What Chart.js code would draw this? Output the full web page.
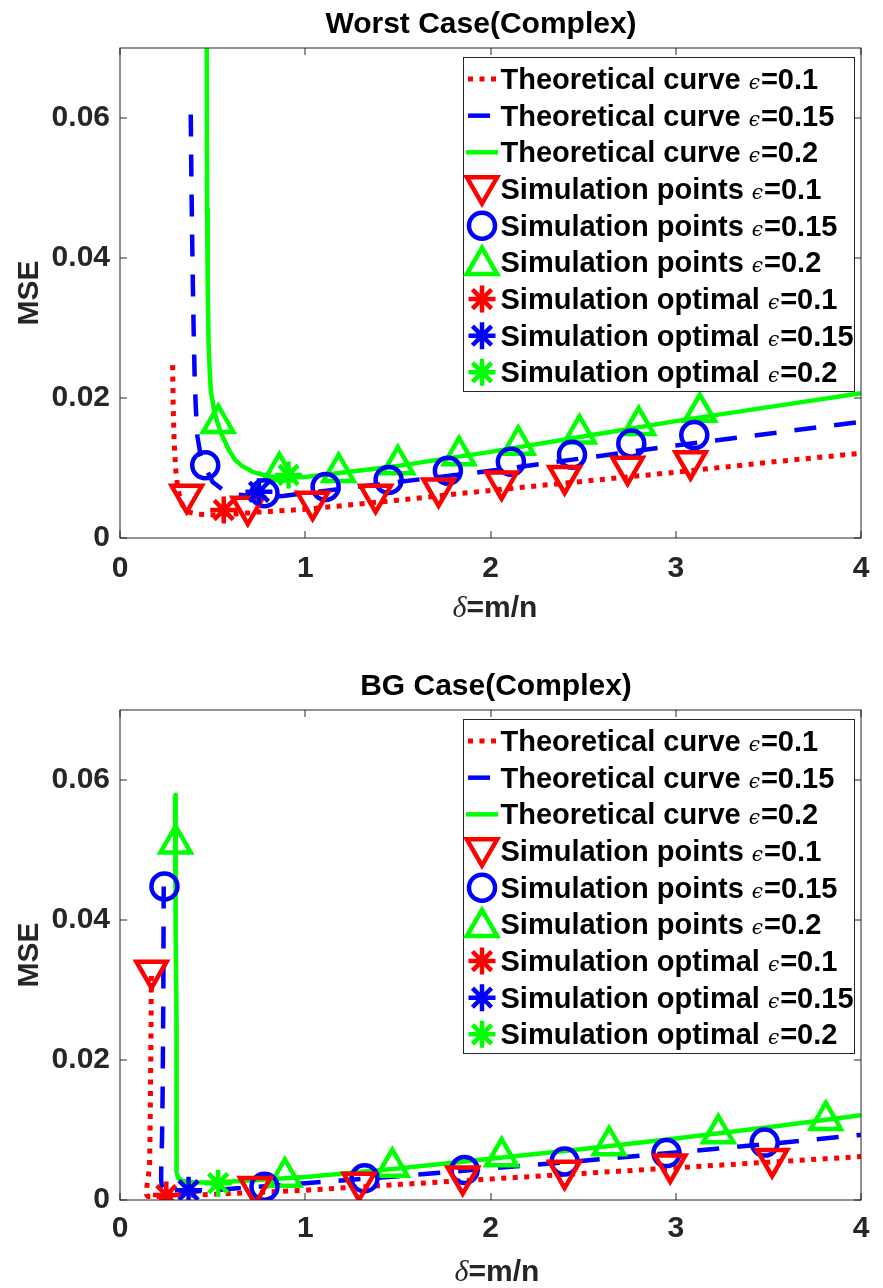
<!DOCTYPE html>
<html>
<head>
<meta charset="utf-8">
<script src="https://cdn.jsdelivr.net/npm/chart.js@4.4.1/dist/chart.umd.min.js"></script>
<style>
html,body{margin:0;padding:0;background:#fff;}
canvas{display:block;}
</style>
</head>
<body>
<canvas id="wc" width="883" height="644"></canvas>
<canvas id="bg" width="883" height="644"></canvas>
<script>
// ---------- shared tick / legend data ----------
const xTickValues = [0, 1, 2, 3, 4];
const yTickValues = [0, 0.02, 0.04, 0.06];
const epsilonLabels = ['0.1', '0.15', '0.2'];
const legendPrefixes = ['Theoretical curve', 'Theoretical curve', 'Theoretical curve',
  'Simulation points', 'Simulation points', 'Simulation points',
  'Simulation optimal', 'Simulation optimal', 'Simulation optimal'];

// ---------- Worst Case (Complex) ----------
const wcCurveX_01 = [0.284, 0.287, 0.292, 0.300, 0.310, 0.325, 0.345, 0.37, 0.42, 0.50, 0.60, 0.75, 1.0, 1.5, 2.0, 2.5, 3.0, 3.5, 4.0];
const wcCurveY_01 = [0.0247, 0.0190, 0.0140, 0.0100, 0.0075, 0.0055, 0.0043, 0.0037, 0.0034, 0.0033, 0.0034, 0.0037, 0.0041, 0.0054, 0.0068, 0.0081, 0.0094, 0.0108, 0.0121];
const wcCurveX_015 = [0.382, 0.386, 0.390, 0.394, 0.398, 0.403, 0.409, 0.418, 0.435, 0.462, 0.50, 0.56, 0.64, 0.75, 0.88, 1.0, 1.5, 2.0, 2.5, 3.0, 3.5, 4.0];
const wcCurveY_015 = [0.0605, 0.050, 0.042, 0.035, 0.029, 0.023, 0.0187, 0.0145, 0.0118, 0.0100, 0.0080, 0.0068, 0.0062, 0.0059, 0.0060, 0.0064, 0.0080, 0.0096, 0.0114, 0.0132, 0.0149, 0.0166];
const wcCurveX_02 = [0.467, 0.468, 0.470, 0.474, 0.478, 0.484, 0.490, 0.505, 0.52, 0.545, 0.587, 0.62, 0.658, 0.72, 0.80, 0.90, 1.0, 1.5, 2.0, 2.5, 3.0, 3.5, 4.0];
const wcCurveY_02 = [0.080, 0.070, 0.047, 0.035, 0.028, 0.024, 0.0211, 0.0187, 0.0170, 0.0150, 0.0126, 0.0112, 0.0103, 0.0094, 0.0088, 0.0086, 0.0087, 0.0103, 0.0123, 0.0145, 0.0167, 0.0187, 0.0207];

const wcPointsX_01 = [0.36, 0.69, 1.04, 1.38, 1.72, 2.06, 2.40, 2.74, 3.08];
const wcPointsY_01 = [0.0062, 0.0045, 0.0052, 0.0062, 0.0071, 0.0081, 0.0089, 0.0102, 0.0110];
const wcPointsX_015 = [0.46, 0.78, 1.11, 1.45, 1.77, 2.11, 2.44, 2.76, 3.10];
const wcPointsY_015 = [0.0104, 0.0064, 0.0073, 0.0083, 0.0096, 0.0109, 0.0119, 0.0135, 0.0147];
const wcPointsX_02 = [0.53, 0.86, 1.18, 1.50, 1.83, 2.15, 2.48, 2.80, 3.13];
const wcPointsY_02 = [0.0164, 0.0095, 0.0094, 0.0105, 0.0118, 0.0133, 0.0149, 0.0161, 0.0180];

const wcOptimalX = [0.56, 0.75, 0.91];
const wcOptimalY = [0.0040, 0.0066, 0.0090];

// ---------- BG Case (Complex) ----------
const bgCurveX_01 = [0.169, 0.168, 0.166, 0.164, 0.162, 0.160, 0.155, 0.148, 0.143, 0.143, 0.150, 0.20, 0.30, 0.50, 0.75, 1.0, 1.5, 2.0, 2.5, 3.0, 3.5, 4.0];
const bgCurveY_01 = [0.0320, 0.0260, 0.0200, 0.0140, 0.0090, 0.0055, 0.0038, 0.0026, 0.0015, 0.0008, 0.0005, 0.0005, 0.0006, 0.0008, 0.0011, 0.0014, 0.0022, 0.0030, 0.0038, 0.0046, 0.0054, 0.0062];
const bgCurveX_015 = [0.236, 0.235, 0.234, 0.232, 0.230, 0.227, 0.223, 0.222, 0.226, 0.24, 0.30, 0.40, 0.60, 0.80, 1.0, 1.5, 2.0, 2.5, 3.0, 3.5, 4.0];
const bgCurveY_015 = [0.0448, 0.0380, 0.0300, 0.0220, 0.0150, 0.0090, 0.0050, 0.0030, 0.0018, 0.0013, 0.0011, 0.0012, 0.0016, 0.0020, 0.0024, 0.0034, 0.0045, 0.0056, 0.0068, 0.0080, 0.0093];
const bgCurveX_02 = [0.297, 0.299, 0.302, 0.305, 0.306, 0.305, 0.304, 0.306, 0.315, 0.34, 0.40, 0.50, 0.70, 1.0, 1.5, 2.0, 2.5, 3.0, 3.5, 4.0];
const bgCurveY_02 = [0.0579, 0.0480, 0.0380, 0.0260, 0.0160, 0.0090, 0.0055, 0.0040, 0.0031, 0.0027, 0.0025, 0.0025, 0.0028, 0.0033, 0.0045, 0.0059, 0.0073, 0.0088, 0.0104, 0.0121];

const bgPointsX_01 = [0.17, 0.73, 1.29, 1.85, 2.40, 2.97, 3.52];
const bgPointsY_01 = [0.0328, 0.0019, 0.0025, 0.0034, 0.0042, 0.0051, 0.0059];
const bgPointsX_015 = [0.24, 0.78, 1.32, 1.86, 2.40, 2.95, 3.48];
const bgPointsY_015 = [0.0448, 0.0019, 0.0031, 0.0043, 0.0055, 0.0067, 0.0082];
const bgPointsX_02 = [0.30, 0.89, 1.47, 2.06, 2.64, 3.23, 3.81];
const bgPointsY_02 = [0.0509, 0.0033, 0.0047, 0.0062, 0.0078, 0.0095, 0.0114];

const bgOptimalX = [0.25, 0.37, 0.53];
const bgOptimalY = [0.0007, 0.0014, 0.0024];

// ---------- styles ----------
const COLORS = ['#ff0000', '#0000ff', '#00ff00'];
const LINE_STYLES = [
  {dash: [5, 6.5], width: 5},
  {dash: [22, 18], width: 4.5},
  {dash: [], width: 4.5}
];
const MARKERS = [
  {style: 'triangle', rotation: 180, radius: 17.5},
  {style: 'circle', rotation: 0, radius: 13},
  {style: 'triangle', rotation: 0, radius: 17.5}
];
const STAR_RADIUS = 13.5;
const MARKER_LW = 4.5;
const AXIS_COLOR = '#262626';
const SANS = '"Liberation Sans", Arial, Helvetica, sans-serif';
const SERIF = '"DejaVu Serif", "Liberation Serif", serif';
const CANVAS_H = 644;

function xy(xs, ys) { return xs.map((x, i) => ({x: x, y: ys[i]})); }

function buildDatasets(curves, points, optX, optY) {
  const ds = [];
  curves.forEach((c, i) => ds.push({
    data: xy(c[0], c[1]), showLine: true, fill: false, tension: 0,
    borderColor: COLORS[i], borderWidth: LINE_STYLES[i].width, borderDash: LINE_STYLES[i].dash,
    borderCapStyle: 'butt', borderJoinStyle: 'round', pointRadius: 0, order: 3
  }));
  points.forEach((p, i) => ds.push({
    data: xy(p[0], p[1]), showLine: false,
    pointStyle: MARKERS[i].style, pointRotation: MARKERS[i].rotation, pointRadius: MARKERS[i].radius,
    pointBorderWidth: MARKER_LW, pointBorderColor: COLORS[i], borderColor: COLORS[i],
    pointBackgroundColor: 'rgba(0,0,0,0)', backgroundColor: 'rgba(0,0,0,0)', order: 2
  }));
  optX.forEach((x, i) => ds.push({
    data: [{x: x, y: optY[i]}], showLine: false,
    pointStyle: 'star', pointRadius: STAR_RADIUS, pointBorderWidth: MARKER_LW,
    pointBorderColor: COLORS[i], borderColor: COLORS[i], pointBackgroundColor: COLORS[i], order: 1
  }));
  return ds;
}

function drawMarker(ctx, kind, x, y, color) {
  ctx.save();
  ctx.strokeStyle = color; ctx.lineWidth = MARKER_LW; ctx.setLineDash([]);
  ctx.beginPath();
  if (kind.style === 'circle') {
    ctx.arc(x, y, kind.radius, 0, Math.PI * 2);
  } else if (kind.style === 'triangle') {
    let rad = kind.rotation * Math.PI / 180; const r = kind.radius;
    ctx.moveTo(x + Math.sin(rad) * r, y - Math.cos(rad) * r);
    rad += 2 * Math.PI / 3; ctx.lineTo(x + Math.sin(rad) * r, y - Math.cos(rad) * r);
    rad += 2 * Math.PI / 3; ctx.lineTo(x + Math.sin(rad) * r, y - Math.cos(rad) * r);
    ctx.closePath();
  } else {
    const r = STAR_RADIUS;
    for (let k = 0; k < 4; k++) {
      const a = k * Math.PI / 4;
      ctx.moveTo(x - Math.cos(a) * r, y - Math.sin(a) * r);
      ctx.lineTo(x + Math.cos(a) * r, y + Math.sin(a) * r);
    }
  }
  ctx.stroke();
  ctx.restore();
}

const decorPlugin = {
  id: 'matlabDecor',
  afterDraw(chart, args, o) {
    const ctx = chart.ctx, a = chart.chartArea, xs = chart.scales.x, ys = chart.scales.y;
    ctx.save();
    // axes box
    ctx.strokeStyle = AXIS_COLOR; ctx.lineWidth = 1; ctx.setLineDash([]);
    ctx.strokeRect(a.left, a.top, a.right - a.left, a.bottom - a.top);
    // inward ticks on all four sides
    ctx.beginPath();
    xTickValues.forEach(v => {
      const px = Math.round(xs.getPixelForValue(v));
      ctx.moveTo(px, a.bottom); ctx.lineTo(px, a.bottom - 7);
      ctx.moveTo(px, a.top); ctx.lineTo(px, a.top + 7);
    });
    yTickValues.forEach(v => {
      const py = Math.round(ys.getPixelForValue(v));
      ctx.moveTo(a.left, py); ctx.lineTo(a.left + 7, py);
      ctx.moveTo(a.right, py); ctx.lineTo(a.right - 7, py);
    });
    ctx.stroke();

    // title
    ctx.fillStyle = '#000';
    ctx.font = 'bold ' + o.titleSize + 'px ' + SANS;
    ctx.textAlign = 'center'; ctx.textBaseline = 'alphabetic';
    ctx.fillText(o.title, o.titleX, a.top - 15);

    // x axis title: italic delta + "=m/n"
    const xt1 = '\u03B4', xt2 = '=m/n';
    const f1 = 'italic 30px "Liberation Serif", serif', f2 = 'bold 30px ' + SANS;
    ctx.font = f1; const w1 = ctx.measureText(xt1).width;
    ctx.font = f2; const w2 = ctx.measureText(xt2).width;
    let sx = o.xTitleX - (w1 + w2) / 2;
    const by = a.bottom + o.xTitleOffset;
    ctx.fillStyle = AXIS_COLOR; ctx.textAlign = 'left';
    ctx.font = f1; ctx.fillText(xt1, sx, by);
    ctx.font = f2; ctx.fillText(xt2, sx + w1, by);

    // legend box
    const L = a.right - 398, T = a.top + 9, W = 391, H = 334;
    ctx.fillStyle = '#fff'; ctx.fillRect(L, T, W, H);
    ctx.strokeStyle = AXIS_COLOR; ctx.lineWidth = 1;
    ctx.strokeRect(L + 0.5, T + 0.5, W, H);
    for (let i = 0; i < 9; i++) {
      const cy = T + 22 + i * 36.67;
      const ci = i % 3;
      if (i < 3) {
        ctx.save();
        ctx.strokeStyle = COLORS[ci]; ctx.lineWidth = LINE_STYLES[ci].width;
        ctx.setLineDash(LINE_STYLES[ci].dash); ctx.lineCap = 'butt';
        ctx.beginPath();
        const x0 = ci === 2 ? L + 3 : L + 5, x1 = ci === 2 ? L + 35 : L + 33;
        ctx.moveTo(x0, cy); ctx.lineTo(x1, cy); ctx.stroke();
        ctx.restore();
      } else if (i < 6) {
        const m = MARKERS[ci];
        drawMarker(ctx, m, L + 19, cy + (m.style === 'triangle' ? (m.rotation ? -3 : 3) : 0), COLORS[ci]);
      } else {
        drawMarker(ctx, {style: 'star'}, L + 19, cy, COLORS[ci]);
      }
      // text
      let tx = L + 37.5; const tb = cy + 10;
      ctx.fillStyle = '#000'; ctx.textAlign = 'left'; ctx.textBaseline = 'alphabetic';
      ctx.font = 'bold 29px ' + SANS;
      const pre = legendPrefixes[i] + ' ';
      ctx.fillText(pre, tx, tb); tx += ctx.measureText(pre).width;
      ctx.font = 'italic 20px ' + SERIF;
      ctx.fillText('\u03F5', tx, tb); tx += ctx.measureText('\u03F5').width + 1;
      ctx.font = 'bold 29px ' + SANS;
      ctx.fillText('=' + epsilonLabels[ci], tx, tb);
    }
    ctx.restore();
  }
};

function makeChart(id, datasets, cfg) {
  return new Chart(document.getElementById(id), {
    type: 'scatter',
    data: {datasets: datasets},
    options: {
      responsive: false, animation: false, devicePixelRatio: 1, events: [],
      layout: {padding: {left: 0, right: 13, top: cfg.areaTop, bottom: 0}},
      plugins: {legend: {display: false}, tooltip: {enabled: false}, matlabDecor: cfg},
      scales: {
        x: {
          type: 'linear', min: 0, max: 4,
          afterFit: s => { s.height = CANVAS_H - cfg.areaBottom; },
          afterBuildTicks: s => { s.ticks = xTickValues.map(v => ({value: v})); },
          ticks: {font: {family: SANS, size: 30, weight: 'bold'}, color: AXIS_COLOR, padding: cfg.xTickPad,
            maxRotation: 0, autoSkip: false, callback: v => String(v)},
          grid: {display: false, drawTicks: false}, border: {display: false}
        },
        y: {
          type: 'linear', min: 0, max: 0.07,
          afterFit: s => { s.width = 120; },
          afterBuildTicks: s => { s.ticks = yTickValues.map(v => ({value: v})); },
          ticks: {font: {family: SANS, size: 30, weight: 'bold'}, color: AXIS_COLOR, padding: 10,
            autoSkip: false, callback: v => (v === 0 ? '0' : v.toFixed(2))},
          grid: {display: false, drawTicks: false}, border: {display: false},
          title: {display: true, text: 'MSE', color: AXIS_COLOR,
            font: {family: SANS, size: 30, weight: 'bold'}, padding: {top: 12, bottom: 0}}
        }
      }
    },
    plugins: [decorPlugin]
  });
}

makeChart('wc', buildDatasets(
  [[wcCurveX_01, wcCurveY_01], [wcCurveX_015, wcCurveY_015], [wcCurveX_02, wcCurveY_02]],
  [[wcPointsX_01, wcPointsY_01], [wcPointsX_015, wcPointsY_015], [wcPointsX_02, wcPointsY_02]],
  wcOptimalX, wcOptimalY),
  {areaTop: 48, areaBottom: 538, title: 'Worst Case(Complex)', titleSize: 30, titleX: 481,
   xTitleX: 495, xTitleOffset: 79, xTickPad: 13});

makeChart('bg', buildDatasets(
  [[bgCurveX_01, bgCurveY_01], [bgCurveX_015, bgCurveY_015], [bgCurveX_02, bgCurveY_02]],
  [[bgPointsX_01, bgPointsY_01], [bgPointsX_015, bgPointsY_015], [bgPointsX_02, bgPointsY_02]],
  bgOptimalX, bgOptimalY),
  {areaTop: 66, areaBottom: 556, title: 'BG Case(Complex)', titleSize: 30, titleX: 496,
   xTitleX: 497, xTitleOffset: 81, xTickPad: 11});
</script>
</body>
</html>
